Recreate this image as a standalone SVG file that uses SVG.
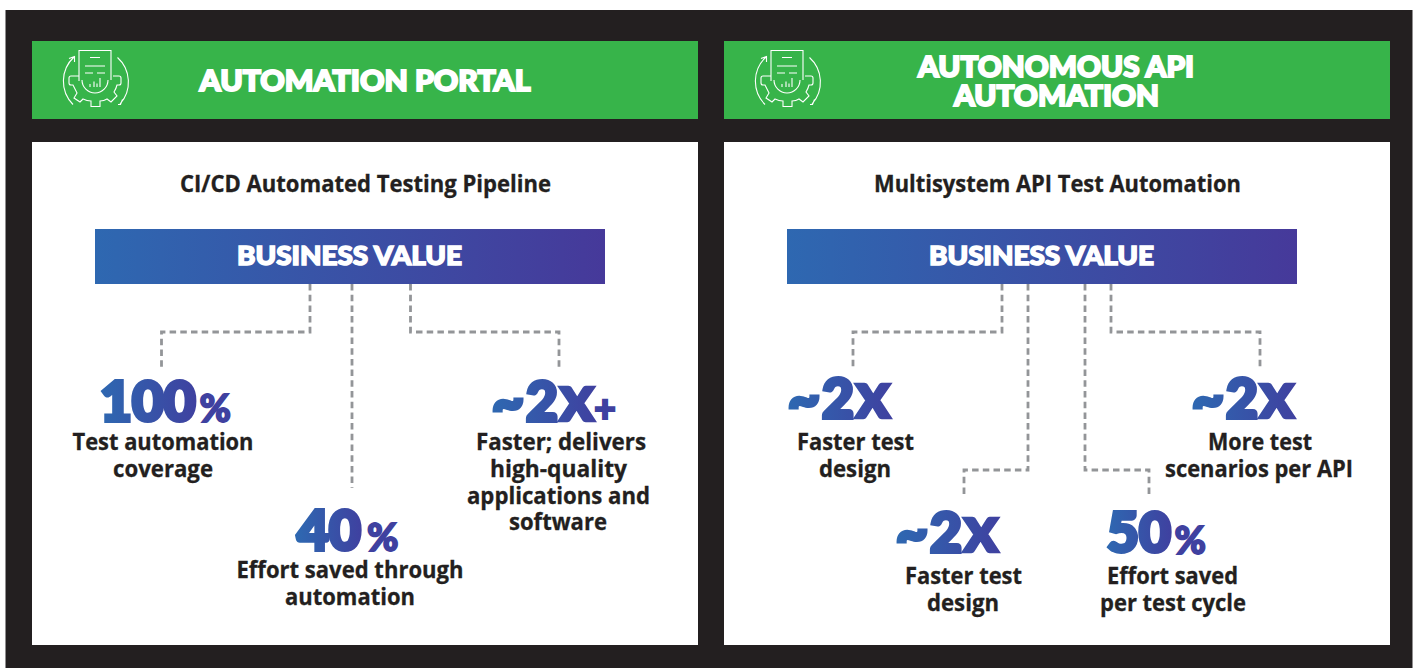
<svg xmlns="http://www.w3.org/2000/svg" xmlns:xlink="http://www.w3.org/1999/xlink" width="1416" height="668" viewBox="0 0 1416 668">
<style>
.panel{fill:#fff}
.hdr{fill:#37b44a}
.htxt{font-family:"Lato","Liberation Sans",sans-serif;font-weight:900;fill:#fff;text-anchor:middle;font-size:28.500px;stroke:#fff;stroke-width:1.900px}
.bv{font-family:"Lato","Liberation Sans",sans-serif;font-weight:900;fill:#fff;text-anchor:middle;font-size:26.500px;stroke:#fff;stroke-width:1.500px}
.sub,.lbl{font-family:"Open Sans","Noto Sans","Liberation Sans",sans-serif;font-weight:700;fill:#231f20;text-anchor:middle;font-size:22.500px;stroke:#231f20;stroke-width:.3px}
.big{font-family:"Lato","Liberation Sans",sans-serif;font-weight:900;font-size:55px;fill:url(#tg);stroke:url(#tg);stroke-width:4px}
.x{font-size:67px;stroke-width:2.500px}
.pct{font-family:"Lato","Liberation Sans",sans-serif;font-weight:900;font-size:38px;fill:#3f41a0;stroke:#3f41a0;stroke-width:1.800px}
.dash{fill:none;stroke:#939598;stroke-width:2.800;stroke-dasharray:6.500 4.200}
.ic{fill:none;stroke:#fff;stroke-width:1.100}
</style>
<defs>
<linearGradient id="bg" x1="0" y1="0" x2="1" y2="0"><stop offset="0" stop-color="#2e68b1"/><stop offset="1" stop-color="#46399a"/></linearGradient>
<linearGradient id="tg" x1="0" y1="0" x2="1" y2="0"><stop offset="0" stop-color="#2e68b1"/><stop offset="1" stop-color="#3f41a0"/></linearGradient>
<g id="icon">
<path class="ic" d="M79 81V50.500H111V80"/>
<path class="ic" d="M90 57.500H100M85 66H105M85 73H93M97 73H105"/>
<path class="ic" d="M82 80A13 13 0 0 0 108 80"/>
<path class="ic" d="M90 87V84M94 87V81.500M97 87V83.500M100 87V78"/>
<path class="ic" d="M79 76H71Q69 76 69 78V83Q69 85 71 85H73Q75 89 77 93L74 98L80 102L83 99Q87 101 91 101V106.500H100V101Q104 101 107 99L111 102L117 96L114 92Q116 89 117 85H119Q121 85 121 83V78Q121 76 119 76H113"/>
<path class="ic" d="M73 104.500A33 33 0 0 1 74 57M69 58.500L74.500 56.500L74.500 62"/>
<path class="ic" d="M117.500 57.500A33 33 0 0 1 120 104M118 104.500H120.500L122.500 99.500"/>
</g>
</defs>
<rect width="1416" height="668" fill="#fff"/>
<rect x="5.500" y="10" width="1407" height="658" fill="#231f20"/>

<g id="panel-left">
<rect class="hdr" x="32" y="41" width="666" height="78"/>
<use xlink:href="#icon" href="#icon"/>
<text class="htxt" x="365" y="90.500" textLength="331" lengthAdjust="spacingAndGlyphs">AUTOMATION PORTAL</text>
<rect class="panel" x="32" y="142" width="666" height="503"/>
<text class="sub" x="365.500" y="192" textLength="371" lengthAdjust="spacingAndGlyphs">CI/CD Automated Testing Pipeline</text>
</g>
<g id="panel-right">
<rect class="hdr" x="724" y="41" width="666" height="78"/>
<use xlink:href="#icon" href="#icon" x="692"/>
<text class="htxt" x="1056" y="76.500" textLength="276" lengthAdjust="spacingAndGlyphs">AUTONOMOUS API</text>
<text class="htxt" x="1056.500" y="105.500" textLength="205" lengthAdjust="spacingAndGlyphs">AUTOMATION</text>
<rect class="panel" x="724" y="142" width="666" height="503"/>
<text class="sub" x="1057.500" y="192" textLength="367" lengthAdjust="spacingAndGlyphs">Multisystem API Test Automation</text>
</g>
<g id="bv-left"><rect x="95" y="229" width="510" height="55" fill="url(#bg)"/><text class="bv" x="349.500" y="264.500" textLength="225" lengthAdjust="spacingAndGlyphs">BUSINESS VALUE</text></g>
<g id="bv-right"><rect x="787" y="229" width="510" height="55" fill="url(#bg)"/><text class="bv" x="1041.500" y="264.500" textLength="225" lengthAdjust="spacingAndGlyphs">BUSINESS VALUE</text></g>

<g id="connectors">
<path class="dash" d="M310 284V332H161.500V370"/>
<path class="dash" d="M352 284V488"/>
<path class="dash" d="M410.500 284V332H559V370"/>
<path class="dash" d="M1002 284V332H853V370"/>
<path class="dash" d="M1028 284V470H964V498"/>
<path class="dash" d="M1085 284V470H1149V498"/>
<path class="dash" d="M1111 284V332H1260V370"/>
</g>

<g id="n1"><text class="big" x="100" y="421">100</text><text class="pct" x="199.500" y="422">%</text>
<text class="lbl" x="163" y="450" textLength="181" lengthAdjust="spacingAndGlyphs">Test automation</text><text class="lbl" x="163" y="476.500" textLength="100" lengthAdjust="spacingAndGlyphs">coverage</text></g>
<g id="n2"><text class="big" x="297" y="550">40</text><text class="pct" x="367" y="551">%</text>
<text class="lbl" x="350" y="577.500" textLength="227" lengthAdjust="spacingAndGlyphs">Effort saved through</text><text class="lbl" x="350" y="604.500" textLength="130" lengthAdjust="spacingAndGlyphs">automation</text></g>
<g id="n3"><text class="big" x="492" y="421">~<tspan x="526">2</tspan><tspan class="x" x="559">x</tspan></text><text class="pct" x="594" y="422">+</text>
<text class="lbl" x="561" y="449.500" textLength="170" lengthAdjust="spacingAndGlyphs">Faster; delivers</text><text class="lbl" x="558.500" y="476.500" textLength="137" lengthAdjust="spacingAndGlyphs">high-quality</text><text class="lbl" x="558.500" y="503.500" textLength="183" lengthAdjust="spacingAndGlyphs">applications and</text><text class="lbl" x="558" y="529.500" textLength="98" lengthAdjust="spacingAndGlyphs">software</text></g>
<g id="n4"><text class="big" x="788" y="418">~<tspan x="822">2</tspan><tspan class="x" x="855">x</tspan></text>
<text class="lbl" x="855.500" y="449.500" textLength="117" lengthAdjust="spacingAndGlyphs">Faster test</text><text class="lbl" x="855" y="476.500" textLength="72" lengthAdjust="spacingAndGlyphs">design</text></g>
<g id="n5"><text class="big" x="896" y="552">~<tspan x="930">2</tspan><tspan class="x" x="963">x</tspan></text>
<text class="lbl" x="963.500" y="583.500" textLength="117" lengthAdjust="spacingAndGlyphs">Faster test</text><text class="lbl" x="963" y="610.500" textLength="72" lengthAdjust="spacingAndGlyphs">design</text></g>
<g id="n6"><text class="big" x="1107" y="552">50</text><text class="pct" x="1174.500" y="554">%</text>
<text class="lbl" x="1172.500" y="583.500" textLength="131" lengthAdjust="spacingAndGlyphs">Effort saved</text><text class="lbl" x="1173" y="610.500" textLength="146" lengthAdjust="spacingAndGlyphs">per test cycle</text></g>
<g id="n7"><text class="big" x="1192" y="418">~<tspan x="1226">2</tspan><tspan class="x" x="1259">x</tspan></text>
<text class="lbl" x="1260" y="450" textLength="104" lengthAdjust="spacingAndGlyphs">More test</text><text class="lbl" x="1259" y="476.500" textLength="188" lengthAdjust="spacingAndGlyphs">scenarios per API</text></g>
</svg>
